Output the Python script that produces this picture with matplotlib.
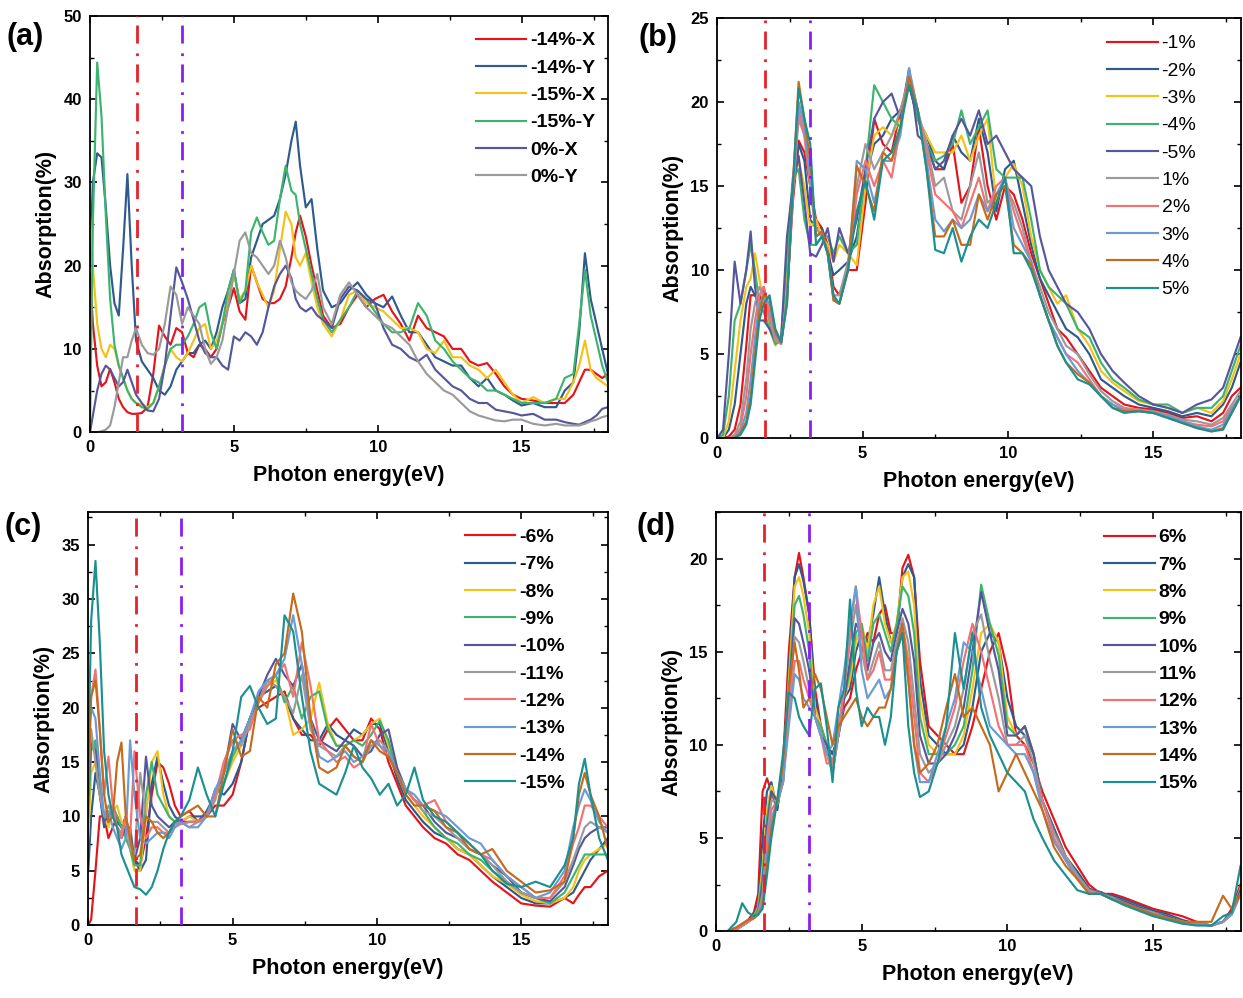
import matplotlib.pyplot as plt
from matplotlib.ticker import MultipleLocator

plt.rcParams['font.family'] = ['Liberation Sans', 'DejaVu Sans']

# line colours (Origin-like palette), same order in every panel
colors = ['#E3141B', '#2F5A8E', '#F5C118', '#3DB46E', '#56569C',
          '#9A9A9A', '#F47172', '#6B9BD2', '#C66A1C', '#1B9090']
vis_lo, vis_hi = 1.64, 3.2   # visible range markers (eV)

# ---------------- panel (a) ----------------
E_a = [0, 0.1, 0.25, 0.4, 0.55, 0.7, 0.85, 1.0, 1.15, 1.3,
       1.45, 1.6, 1.8, 2.0, 2.2, 2.4, 2.6, 2.8, 3.0, 3.2,
       3.4, 3.6, 3.8, 4.0, 4.2, 4.4, 4.6, 4.8, 5.0, 5.2,
       5.4, 5.6, 5.8, 6.0, 6.2, 6.4, 6.6, 6.8, 7.0, 7.15,
       7.3, 7.5, 7.7, 7.9, 8.1, 8.4, 8.7, 9.0, 9.3, 9.6,
       9.9, 10.2, 10.5, 10.8, 11.1, 11.4, 11.7, 12.0, 12.3, 12.6,
       12.9, 13.2, 13.5, 13.8, 14.1, 14.4, 14.7, 15.0, 15.4, 15.8,
       16.2, 16.5, 16.8, 17.0, 17.2, 17.4, 17.6, 17.8, 18.0]
labels_a = ['-14%-X', '-14%-Y', '-15%-X', '-15%-Y', '0%-X', '0%-Y']
a_m14x = [19, 13, 8, 5.5, 6, 7.6, 6, 4, 3, 2.4,
          2.2, 2.2, 2.3, 3, 7, 12.8, 11.5, 10.5, 12.5, 12,
          9.5, 9, 10.5, 10, 9, 10, 13, 15, 17.3, 14.5,
          13.5, 20, 18, 16, 15.5, 15.5, 16, 17.5, 21, 24,
          26, 23.5, 20, 17, 14, 12.5, 13, 15, 16.5, 15,
          16, 16.5, 14.5, 13, 11, 14, 12.5, 12, 11.5, 10,
          10, 8.5, 8, 8.3, 7, 5.5, 4.5, 4, 3.8, 3.5,
          3.5, 3.5, 4.5, 6, 7.5, 7.5, 7, 6.5, 7]
a_m14y = [20, 30, 33.5, 33, 27, 20, 15.5, 14, 22, 31,
          20, 11, 8.5, 7.5, 6.5, 5, 4.5, 5.5, 7.5, 8.5,
          9.5, 9.5, 10.5, 11, 10, 12, 15, 17, 19.5, 15.5,
          16, 21, 23, 25, 25.5, 26, 28, 31, 35, 37.3,
          32, 27, 28, 22, 17, 15, 15.5, 17, 18, 16.5,
          15.5, 15, 16.3, 14, 12, 12, 10.5, 9, 8.5, 8,
          8, 6.5, 5.5, 6.5, 5, 4.5, 3.8, 3.2, 3.5, 3,
          3, 5, 6, 12, 21.5, 16, 13, 10, 7]
a_m15x = [26, 20, 13, 10, 9, 10.5, 10, 8, 6.5, 5,
          4, 3.5, 3.3, 3, 3.5, 5.5, 8, 10, 9, 8.5,
          9.5, 11, 12.5, 13, 10, 11, 13, 16, 19, 16,
          17, 20, 18, 16.5, 15, 17, 22, 26.5, 25, 21,
          20, 21.5, 18, 15, 13, 11.5, 13.5, 16.5, 17, 15.5,
          15, 14.5, 13.5, 12.5, 12.5, 12, 10, 9.5, 11, 9,
          9, 8, 7.5, 6.5, 7.5, 6, 4.5, 3.5, 4.2, 3.5,
          4, 4, 6, 8, 11, 7.5, 6.5, 6, 5.5]
a_m15y = [0, 25, 44.4, 38, 26, 16, 10.5, 8, 6.5, 5,
          4, 3.5, 3, 2.8, 3.5, 5.5, 8, 10, 10.5, 10.5,
          11.5, 13, 15, 15.5, 12, 10, 13, 17, 19.5, 15.5,
          17, 24, 25.8, 24, 22.5, 23, 28, 32, 29, 28.5,
          25, 22, 19, 16, 13.5, 12, 13.5, 15, 17, 16,
          14.5, 13, 12, 12, 12.5, 15.5, 14, 11, 10, 8.5,
          7.5, 6.5, 6, 5, 5, 4.5, 4, 3.5, 3.5, 3.5,
          4, 6.5, 7, 13, 19.5, 14, 11, 8, 6]
a_0x = [0, 2, 5, 7, 8, 7.5, 6.5, 5.5, 6, 7.5,
        6, 4.5, 3.5, 2.6, 2.5, 4, 8, 14, 19.8, 18,
        16, 13.5, 11, 9.5, 9, 9, 8, 7.5, 11.5, 11,
        12, 11.5, 10.5, 12, 15, 17.5, 19, 20, 18.5, 16,
        15, 14.5, 15, 14, 13.5, 12.5, 16, 17.5, 17, 16,
        15.5, 12.5, 10.5, 10, 9, 8.5, 9.3, 7.5, 6.5, 5.5,
        5, 4, 3.5, 3.5, 2.7, 2.5, 2.3, 2, 2.2, 1.5,
        1.5, 1.2, 1, 0.9, 1.2, 1.5, 2, 2.8, 3]
a_0y = [0, 0, 0, 0.1, 0.3, 0.8, 3, 6, 9, 9,
        11, 12.5, 10.5, 9.5, 9.3, 10, 13, 17.5, 16.5, 13,
        15, 14, 13, 10, 8.2, 9, 11, 15, 19, 23,
        24, 21.5, 21, 20, 19, 20, 23, 21, 18, 17,
        16.5, 16, 17, 19, 15, 13, 16.5, 18, 16.5, 15,
        14, 13, 12.5, 11.5, 10.5, 8.5, 7, 6, 5, 4.5,
        3.5, 2.5, 2, 1.7, 1.4, 1.3, 1.5, 1.5, 1, 0.8,
        1, 0.8, 0.8, 0.8, 1, 1.3, 1.5, 1.8, 2]

# ---------------- panel (b) ----------------
E_b = [0, 0.2, 0.4, 0.6, 0.8, 1.0, 1.15, 1.3, 1.45, 1.6,
       1.8, 2.0, 2.2, 2.4, 2.6, 2.8, 3.0, 3.2, 3.4, 3.6,
       3.8, 4.0, 4.2, 4.5, 4.8, 5.1, 5.4, 5.7, 6.0, 6.3,
       6.6, 6.9, 7.2, 7.5, 7.8, 8.1, 8.4, 8.7, 9.0, 9.3,
       9.6, 9.9, 10.2, 10.5, 10.8, 11.1, 11.4, 11.7, 12.0, 12.4,
       12.8, 13.2, 13.6, 14.0, 14.5, 15.0, 15.5, 16.0, 16.5, 17.0,
       17.4, 17.7, 18.0]
labels_b = ['-1%', '-2%', '-3%', '-4%', '-5%', '1%', '2%', '3%', '4%', '5%']
b_m1 = [0, 0, 0.1, 0.5, 2, 5.5, 8.5, 8.5, 8, 9,
        7, 5.8, 5.7, 8.5, 14, 17.7, 17, 15, 13, 12.5,
        11.5, 9, 8.5, 10, 10, 14, 19, 17.5, 17, 19.5,
        21, 19, 17.5, 16, 16, 17.5, 14, 15, 18.5, 15,
        13, 15, 14.5, 13, 11, 9.5, 8, 6.5, 6, 5,
        4, 3, 2.5, 2, 1.8, 1.7, 1.5, 1.2, 1.3, 1.0,
        1.5, 2.5, 3]
b_m2 = [0, 0, 0.5, 2, 5, 8, 9, 8.5, 8, 8.5,
        6.8, 5.7, 5.8, 9, 14.5, 17.5, 16.5, 13, 12.5, 12.5,
        11, 9.7, 10, 10.5, 12, 15.5, 17.5, 18, 19, 19.5,
        21, 19, 18, 16.5, 16, 18, 17, 16.5, 19, 17,
        13.5, 16, 16.5, 14, 11.5, 9.5, 8.5, 7.5, 6.5, 6,
        5, 3.5, 3, 2.5, 2, 1.8, 1.6, 1.3, 1.5, 1.3,
        2, 3, 4.5]
b_m3 = [0, 0, 1, 4, 7, 9, 9.5, 11, 9.5, 8,
        6.5, 5.5, 6, 10, 15, 16.5, 15, 12.5, 13, 12,
        11.5, 10.5, 11.5, 11, 10.3, 15, 18, 18.5, 18, 19,
        21.5, 19, 18, 17, 17, 17, 18, 16.5, 18, 19,
        14, 15.5, 16.3, 15, 12, 10, 9, 8, 8.5, 6.5,
        5.5, 4, 3.3, 2.8, 2.2, 2, 1.8, 1.5, 1.8, 1.5,
        2.2, 3.5, 5]
b_m4 = [0, 0.2, 2.5, 7, 8, 10, 11.5, 10, 8, 7.5,
        6.5, 5.6, 5.8, 11, 15.5, 16, 13, 11.5, 11.5, 12,
        12, 11, 12, 11, 11.5, 16, 21, 20, 19, 18.5,
        21.5, 19, 17.5, 16.5, 16.8, 17.5, 19.5, 17.5, 18.5, 19.5,
        16, 15.5, 15.5, 15.5, 13, 10, 9, 8.5, 8, 6.5,
        6, 4.5, 3.5, 3, 2.3, 2, 2, 1.5, 1.8, 1.8,
        2.5, 4, 5.5]
b_m5 = [0, 0.5, 5, 10.5, 8, 10, 12.3, 9, 7, 7,
        6.5, 5.8, 6, 12, 15, 16.8, 14, 11, 10.8, 11.5,
        12.5, 10.5, 12.5, 11, 13, 16, 19, 20, 20.5, 19,
        22, 18, 17.5, 16, 16.5, 18, 19, 18, 19.5, 17.5,
        18, 17, 16, 15.5, 15, 12, 10, 9, 8, 7.5,
        6.5, 5, 4, 3.3, 2.5, 2, 1.8, 1.5, 2, 2.3,
        3, 4.5, 6]
b_p1 = [0, 0, 0, 0.2, 1, 3.5, 6.5, 8, 9, 8.5,
        7, 5.8, 5.6, 8.5, 14.5, 19, 18, 15, 12.5, 12,
        11, 8.5, 8.5, 10.5, 15, 17.5, 16, 17, 18, 19.5,
        21.5, 19.5, 17.5, 15, 15.5, 13.5, 13, 15, 17, 14,
        14.5, 15, 14, 12.5, 10.5, 9, 7.5, 6.5, 5.5, 5,
        3.8, 2.8, 2.2, 1.8, 1.7, 1.6, 1.4, 1.1, 1.0, 0.8,
        1.2, 2, 2.8]
b_p2 = [0, 0, 0, 0.1, 0.6, 2.5, 5, 7, 8.5, 9,
        7.5, 6, 5.6, 8.5, 14.5, 19.5, 18, 15, 12, 12.3,
        11, 8.3, 8, 10, 14.5, 16.5, 15, 16.5, 15.5, 18.5,
        21.8, 19.5, 17, 14.5, 14, 13.5, 12.5, 14, 15.5, 13.5,
        15, 15.5, 13.5, 12, 10.5, 8.5, 7, 6, 5, 4.5,
        3.5, 2.5, 2, 1.7, 1.7, 1.5, 1.3, 1.0, 0.8, 0.7,
        1, 1.8, 2.5]
b_p3 = [0, 0, 0, 0, 0.4, 1.5, 3.5, 6, 8, 8.5,
        8, 6.2, 5.7, 8.3, 15, 20, 18.5, 15.5, 12, 12.2,
        11, 8.2, 8, 10, 16.5, 16, 14, 16.5, 16.5, 18,
        22, 19.5, 16.5, 13, 12.3, 13, 12.5, 13, 14.5, 13.5,
        14.5, 15.5, 12.5, 11.5, 10.5, 8.5, 7, 6, 5, 4,
        3.3, 2.5, 2, 1.6, 1.6, 1.5, 1.3, 1.0, 0.7, 0.5,
        0.8, 1.7, 2.5]
b_p4 = [0, 0, 0, 0, 0.3, 1, 2.5, 5, 7.5, 8.5,
        8.3, 6.3, 5.7, 8, 15, 21.2, 19, 16.5, 12, 12.3,
        11, 8.2, 8, 10, 16.2, 15, 13.5, 17, 16.5, 18.5,
        21.5, 19.5, 16, 12, 12, 13, 11.5, 11.5, 14.5, 13,
        14.5, 15, 11.5, 11, 10.3, 8.5, 7, 5.5, 4.5, 3.8,
        3.3, 2.5, 1.8, 1.6, 1.6, 1.5, 1.2, 0.9, 0.6, 0.4,
        0.6, 1.5, 2.5]
b_p5 = [0, 0, 0, 0, 0.2, 0.8, 2, 4.5, 7, 8,
        8.5, 6.5, 5.7, 8, 15, 20.8, 19, 17.5, 11.5, 12,
        11, 8.5, 8, 10, 13.5, 15.3, 13, 16.5, 17, 18.5,
        21, 19.5, 16, 11.2, 11, 12.5, 10.5, 12, 13, 12.5,
        14, 15.5, 11, 11, 10, 8.5, 7, 5.5, 4.5, 3.5,
        3.2, 2.5, 1.8, 1.5, 1.6, 1.5, 1.2, 0.9, 0.6, 0.4,
        0.5, 1.5, 2.5]

# ---------------- panel (c) ----------------
E_c = [0, 0.1, 0.25, 0.4, 0.55, 0.7, 0.85, 1.0, 1.15, 1.3,
       1.45, 1.6, 1.8, 2.0, 2.2, 2.4, 2.6, 2.8, 3.0, 3.2,
       3.5, 3.8, 4.1, 4.4, 4.7, 5.0, 5.3, 5.6, 5.9, 6.2,
       6.5, 6.8, 7.1, 7.4, 7.7, 8.0, 8.3, 8.6, 8.9, 9.2,
       9.5, 9.8, 10.1, 10.4, 10.7, 11.0, 11.3, 11.6, 12.0, 12.4,
       12.8, 13.2, 13.6, 14.0, 14.5, 15.0, 15.5, 16.0, 16.5, 16.8,
       17.0, 17.2, 17.4, 17.7, 18.0]
labels_c = ['-6%', '-7%', '-8%', '-9%', '-10%', '-11%', '-12%', '-13%', '-14%', '-15%']
c_m6 = [0, 0.5, 5, 10, 10, 8, 9, 10, 9, 8.5,
        8, 6, 5.5, 8, 12, 15, 14.5, 13, 11, 10,
        10.5, 9.5, 10, 11, 11, 12, 15, 19, 20, 20.5,
        21, 21.5, 19, 17.5, 17.5, 16.5, 18, 19, 18, 17,
        17, 19, 18, 15, 13, 11, 10, 9, 8, 7.5,
        6.5, 6, 5, 4, 3, 2, 1.8, 1.7, 2.5, 2,
        2.8, 3.5, 3.5, 4.5, 5]
c_m7 = [5, 10, 14, 12, 9, 9.5, 10, 9.5, 9, 10,
        8, 6, 5, 6, 13, 15.5, 13, 11, 10, 9.5,
        10, 10, 10, 12.5, 12, 13, 15, 19, 21, 21.5,
        22, 21, 19, 18, 17, 17, 18.5, 17.5, 17, 18,
        17.5, 18.5, 18.5, 16, 13.5, 11.5, 10.5, 9.5, 8.5, 8,
        7, 6.5, 5.5, 4.5, 3.5, 2.5, 2, 2, 2.5, 3,
        4, 5, 6, 7, 8]
c_m8 = [8, 14, 15, 12, 10, 9, 10.5, 11, 9.5, 9,
        7, 5, 5, 10, 15, 16, 12, 10, 9.5, 9.5,
        10, 9.5, 10, 12, 13, 15, 16.5, 19, 21, 22,
        22.5, 21, 17.5, 18, 19, 22.3, 18.5, 16.5, 16.5, 17,
        17.5, 18.5, 19, 16.5, 14, 12, 11, 10, 9, 8,
        7, 6.5, 5.5, 4.5, 3.8, 2.8, 2.2, 2, 2.5, 3.5,
        5, 6, 6.5, 7, 7.5]
c_m9 = [10, 16, 17, 13, 10, 10, 11, 10, 9, 8,
        7, 5.5, 5.5, 12, 15, 12, 11, 10, 9.5, 9.3,
        9.5, 9.5, 10, 12, 13, 15.5, 17, 19, 20.5, 22,
        23, 20.5, 22, 19, 21, 21.5, 18, 16.5, 16.5, 17,
        16.5, 17.5, 18.8, 17, 14, 12.5, 11.5, 10.5, 9, 8,
        7.5, 6.5, 6, 5, 4, 3, 2.5, 2, 3, 4.5,
        5.5, 6.5, 6.5, 6.5, 6.5]
c_m10 = [12, 17, 16, 12, 9.5, 10, 10.5, 9, 8, 9,
         9, 6, 8, 15.5, 11, 10, 9.5, 9, 9.5, 9.5,
         9.5, 9.5, 10.5, 12, 14, 18.5, 17, 19, 21, 23,
         24.5, 23, 22, 24, 19, 17, 16.5, 16, 17, 16.5,
         15.5, 16, 17.5, 18, 14.5, 12.5, 11.5, 11, 9.5, 8.5,
         8, 7, 6.5, 5.5, 4.5, 3, 2.5, 2.2, 3.5, 5.5,
         7, 8, 8.5, 9, 9]
c_m11 = [14, 18, 15, 12, 10, 11, 10, 9, 8.5, 10,
         7, 6.5, 14, 10, 9.5, 9.5, 9, 8.5, 9.3, 9.5,
         9, 9.5, 10, 11.5, 15, 17, 16.5, 18.5, 20.5, 22.5,
         22, 21, 19.5, 23, 18, 16.5, 16, 15.5, 16.5, 15.5,
         15, 16.5, 17, 16, 14, 12.5, 11.5, 10.5, 10, 9,
         8, 7, 6.5, 5.5, 4, 3, 2.5, 2.5, 4, 6,
         7.5, 9, 9.5, 9, 8.5]
c_m12 = [16, 21, 23.5, 18, 12, 15.5, 11, 9, 8, 10,
         8, 16, 10, 8, 9, 9, 8.5, 8.5, 9, 9.3,
         9.5, 9.5, 10, 12, 15, 17, 17.5, 18, 20.5, 22,
         23, 24, 21, 26, 22, 17, 16, 15, 15.5, 14.5,
         15, 18.5, 16.5, 15.5, 14, 12.5, 11.5, 11, 11.5, 9.5,
         8.5, 7.5, 6.5, 6, 4.5, 3.5, 2.5, 2.5, 4.5, 7.5,
         9, 11, 11, 10, 9]
c_m13 = [17, 20, 19, 14, 10, 10.5, 9, 8, 7, 8,
         17, 12, 8, 7.5, 8, 8.5, 8.5, 8, 9, 9.5,
         9, 9, 10, 12.5, 14, 16, 17, 19, 21.5, 22.5,
         23, 24.5, 28.5, 24, 19, 15.5, 15, 15.5, 16, 15,
         15.5, 17, 16.5, 16, 14, 12.5, 12, 11, 10.5, 10,
         9, 8, 7.5, 6, 4.5, 3.5, 2.5, 3, 5, 9,
         11, 12.5, 11.5, 9.5, 8.5]
c_m14 = [12, 21, 22.5, 18, 12, 9.5, 10, 15, 16.8, 10,
         8, 6, 6.5, 10, 9.5, 8.5, 8, 8.5, 9.5, 10,
         10.5, 11, 10, 10, 14, 18, 15.5, 16, 21, 20,
         24, 25, 30.5, 27, 19, 14.5, 14, 14.5, 16.5, 15.5,
         15, 17, 16, 15.5, 14, 12, 11, 11, 10.5, 9,
         8.5, 7, 6.5, 7, 5, 4, 3, 3.2, 4, 8,
         12, 14, 12, 10, 7]
c_m15 = [15, 28, 33.5, 26, 16, 12, 10, 9, 6.5, 5.5,
         4.5, 3.5, 3.3, 2.8, 3.5, 5, 7, 8.5, 9.5, 10,
         11.5, 14.5, 12, 10, 13, 16, 21, 22, 20, 18.5,
         19, 28.5, 27, 21, 16, 13, 12.5, 12, 14, 16.5,
         14.5, 13.5, 12, 13, 11, 12, 14.5, 11.5, 10, 9.5,
         8.5, 7.5, 6.5, 5, 3.8, 3.5, 4, 3.5, 5.5, 8,
         13, 15.3, 12, 8, 6]

# ---------------- panel (d) ----------------
E_d = [0, 0.4, 0.7, 0.9, 1.1, 1.3, 1.45, 1.6, 1.75, 1.9,
       2.1, 2.3, 2.5, 2.7, 2.85, 3.0, 3.2, 3.4, 3.6, 3.8,
       4.0, 4.2, 4.4, 4.6, 4.8, 5.0, 5.2, 5.4, 5.6, 5.8,
       6.0, 6.2, 6.4, 6.6, 6.8, 7.0, 7.3, 7.6, 7.9, 8.2,
       8.5, 8.8, 9.1, 9.4, 9.7, 10.0, 10.3, 10.6, 10.9, 11.2,
       11.6, 12.0, 12.4, 12.8, 13.2, 13.6, 14.0, 14.5, 15.0, 15.5,
       16.0, 16.5, 17.0, 17.4, 17.7, 18.0]
labels_d = ['6%', '7%', '8%', '9%', '10%', '11%', '12%', '13%', '14%', '15%']
d_p6 = [0, 0, 0.1, 0.3, 0.6, 1, 2, 7.5, 8.2, 7.5,
        6.5, 9, 15, 19, 20.3, 19, 17, 13, 11, 10,
        9.5, 10.5, 12, 12.5, 14, 15, 16, 15.5, 17, 17.5,
        16, 16, 19.5, 20.2, 19, 14.5, 11, 10.5, 10, 9.5,
        9.5, 11, 13, 15, 16, 14, 10.5, 10, 9, 7.5,
        6, 4.5, 3.5, 2.5, 2, 2, 1.8, 1.5, 1.2, 1,
        0.8, 0.5, 0.3, 0.5, 1.2, 2.5]
d_p7 = [0, 0, 0.1, 0.3, 0.5, 0.9, 1.5, 5, 7.5, 8,
        6.5, 8.5, 14, 19, 19.7, 18.8, 17, 12.5, 11, 10,
        9.5, 10.5, 12.5, 13, 15, 16, 15.5, 17, 19, 17,
        15.5, 16, 19, 19.7, 19, 13.5, 10.5, 10, 9.5, 9.5,
        10, 12, 15, 16, 15.5, 12.5, 11, 10.5, 9.5, 7,
        5.5, 4, 3.2, 2.3, 2, 1.9, 1.7, 1.4, 1.1, 0.9,
        0.6, 0.4, 0.3, 0.5, 1, 2.3]
d_p8 = [0, 0, 0.1, 0.3, 0.5, 0.8, 1.3, 3.5, 6.5, 7.8,
        6.8, 8, 13.5, 18.5, 19, 18, 16, 12, 11, 10,
        9, 10.5, 12.5, 13.5, 15.5, 16.5, 15, 17.5, 18.5, 16.5,
        15.5, 16.5, 19, 19.3, 17.5, 12.5, 10, 9.5, 9.5, 9.5,
        10.5, 13, 16, 16.5, 15.5, 11.5, 10.5, 11, 9.5, 7,
        5.5, 4, 3, 2.2, 2, 1.8, 1.6, 1.3, 1, 0.8,
        0.5, 0.4, 0.3, 0.5, 1, 2.3]
d_p9 = [0, 0, 0.1, 0.3, 0.5, 0.8, 1.2, 3, 6, 7.5,
        6.8, 8, 13, 17.5, 18, 17, 15, 11.5, 11, 10,
        9, 10.5, 12.5, 14, 16, 16.5, 14.5, 16.5, 17, 16,
        15, 16.5, 18.5, 18, 16, 11.5, 9.5, 9.5, 9.5, 10,
        11, 14, 18.6, 16.5, 14.8, 11, 10.5, 11, 9.5, 7,
        5.5, 4, 3, 2.2, 2.1, 1.8, 1.6, 1.3, 1, 0.8,
        0.5, 0.4, 0.3, 0.5, 1, 2.2]
d_p10 = [0, 0, 0.1, 0.3, 0.5, 0.7, 1, 2.5, 5.5, 7.5,
         7, 8, 12.5, 16.8, 16.5, 15.5, 14, 11.5, 10.5, 10,
         8.5, 10.5, 12.5, 14.5, 16.5, 16, 14, 15.5, 16, 15,
         14.5, 16, 17.3, 16.5, 14.5, 10.5, 9, 9, 9.5, 10.5,
         12, 15, 18.2, 16, 14, 10.5, 10.5, 11, 9.5, 7,
         5.5, 4, 3, 2.2, 2.1, 1.8, 1.6, 1.3, 1, 0.8,
         0.5, 0.4, 0.3, 0.5, 1, 2.2]
d_p11 = [0, 0, 0.1, 0.3, 0.5, 0.7, 1, 2, 5, 7,
         7, 8, 12, 15.8, 15.5, 14.5, 13, 11.5, 10.5, 9.5,
         8.5, 10.5, 13, 15.5, 17.5, 15, 13.5, 14.5, 15.5, 14,
         14, 15.5, 16.8, 15.5, 12.5, 9.5, 8.5, 9, 10, 11,
         13, 16, 17, 14.5, 12.5, 10, 10, 10.5, 9, 7,
         5.3, 4, 3, 2.2, 2, 1.8, 1.5, 1.2, 1, 0.7,
         0.5, 0.4, 0.3, 0.5, 0.9, 2]
d_p12 = [0, 0, 0.1, 0.3, 0.5, 0.7, 0.9, 1.8, 4.5, 6.5,
         7, 8, 11.5, 14.5, 14.5, 13.5, 12.5, 11.5, 10.5, 9,
         9, 11, 13, 16, 18.5, 16, 13.5, 14, 15, 13.5,
         13.5, 15, 16.5, 14.5, 11.5, 8.5, 8, 9, 10.5, 12,
         14.5, 16.5, 15, 13, 11, 10, 10, 10, 8.5, 7,
         5, 3.8, 2.8, 2.1, 2, 1.7, 1.5, 1.2, 0.9, 0.7,
         0.5, 0.4, 0.3, 0.5, 0.9, 2]
d_p13 = [0, 0, 0.2, 0.4, 0.6, 0.7, 0.9, 1.5, 4, 6,
         7, 8, 11, 13.8, 13.5, 12.5, 12, 11.5, 10.5, 9.5,
         10, 12, 14, 16.5, 18.5, 14, 12.5, 13, 13.5, 12.5,
         13, 15, 16, 13.5, 10, 8, 8, 9.5, 11, 12.5,
         15.5, 15, 13, 11, 10.5, 10, 9.5, 9.5, 8.5, 6.5,
         4.8, 3.8, 2.8, 2, 2, 1.7, 1.5, 1.2, 0.9, 0.7,
         0.5, 0.4, 0.3, 0.5, 0.9, 2]
d_p14 = [0, 0, 0.2, 0.4, 0.6, 0.7, 0.9, 1.3, 3.5, 5.5,
         7, 9, 13, 15.5, 14, 12, 12.5, 13.8, 13, 11.5,
         10, 11, 11.5, 12, 12.5, 11.5, 11, 11.5, 12, 12,
         13, 15, 16.5, 13.5, 10, 8.5, 9, 10, 12, 13.8,
         11.5, 12, 11, 10, 7.5, 8.5, 9.5, 8.5, 7.5, 6.5,
         4.5, 3.5, 2.8, 2, 2, 1.7, 1.5, 1.2, 0.9, 0.7,
         0.5, 0.5, 0.5, 1.9, 1.2, 2]
d_p15 = [0, 0, 0.5, 1.5, 1, 0.8, 0.9, 1.2, 3, 5,
         7, 9.5, 12.8, 12.5, 11.5, 11, 10.5, 13, 13.3, 11,
         8, 12, 13, 17.8, 13, 11, 12, 11.5, 11.5, 10,
         11.5, 15, 16, 11, 8.5, 7.2, 7.5, 9, 11, 16,
         13, 16, 12, 10.5, 9.5, 8.5, 8, 7.5, 6, 5,
         3.8, 3, 2.2, 2, 2, 1.7, 1.4, 1.1, 0.8, 0.6,
         0.4, 0.3, 0.3, 0.8, 1, 3.5]

W, H = 1243, 998
# tag, energies, series, labels, ylim, y step, axes rect, legend anchor, legend weight, tag pixel pos
panels = [
    ('(a)', E_a, [a_m14x, a_m14y, a_m15x, a_m15y, a_0x, a_0y], labels_a,
     (0, 50), 10, [0.0724, 0.567, 0.4167, 0.417], (0.745, 0.962), 'bold', (6, 37)),
    ('(b)', E_b, [b_m1, b_m2, b_m3, b_m4, b_m5, b_p1, b_p2, b_p3, b_p4, b_p5], labels_b,
     (0, 25), 5, [0.577, 0.561, 0.421, 0.421], (0.745, 0.96), 'normal', (638, 38)),
    ('(c)', E_c, [c_m6, c_m7, c_m8, c_m9, c_m10, c_m11, c_m12, c_m13, c_m14, c_m15], labels_c,
     (0, 38), 5, [0.071, 0.073, 0.418, 0.414], (0.725, 0.96), 'bold', (5, 527)),
    ('(d)', E_d, [d_p6, d_p7, d_p8, d_p9, d_p10, d_p11, d_p12, d_p13, d_p14, d_p15], labels_d,
     (0, 22.5), 5, [0.576, 0.067, 0.422, 0.420], (0.74, 0.96), 'bold', (636, 527)),
]

fig = plt.figure(figsize=(W / 100, H / 100), dpi=100)
dashdot = (0, (6.5, 3, 1, 3.5))

for tag, E, series, labels, ylim, ystep, rect, legpos, legweight, tagpos in panels:
    ax = fig.add_axes(rect)
    for i, (ys, lab) in enumerate(zip(series, labels)):
        ax.plot(E, ys, color=colors[i], lw=1.55, label=lab)
    ax.axvline(vis_lo, color='#E8202A', lw=2, ls=dashdot, zorder=5)
    ax.axvline(vis_hi, color='#8A1EF2', lw=2, ls=dashdot, zorder=5)

    ax.set_xlim(0, 18)
    ax.set_ylim(*ylim)
    ax.xaxis.set_major_locator(MultipleLocator(5))
    ax.xaxis.set_minor_locator(MultipleLocator(2.5))
    ax.yaxis.set_major_locator(MultipleLocator(ystep))
    ax.yaxis.set_minor_locator(MultipleLocator(ystep / 2))
    ax.tick_params(which='both', direction='in', top=True, right=True)
    ax.tick_params(which='major', length=5, width=1.2, labelsize=12, pad=6)
    ax.tick_params(which='minor', length=3, width=1.0)
    for lbl in ax.get_xticklabels() + ax.get_yticklabels():
        lbl.set_fontweight('bold')
    for sp in ax.spines.values():
        sp.set_linewidth(1.3)

    ax.set_xlabel('Photon energy(eV)', fontsize=15.5, fontweight='bold', labelpad=7)
    ax.set_ylabel('Absorption(%)', fontsize=15.5, fontweight='bold', labelpad=5)

    ax.legend(loc='upper left', bbox_to_anchor=legpos, frameon=False,
              prop={'size': 14, 'weight': legweight}, handlelength=2.6,
              handletextpad=0.2, labelspacing=0.5, borderpad=0, borderaxespad=0)

    fig.text(tagpos[0] / W, 1 - tagpos[1] / H, tag, fontsize=22,
             fontweight='bold', ha='left', va='center')

fig.savefig('out.png', dpi=100)
